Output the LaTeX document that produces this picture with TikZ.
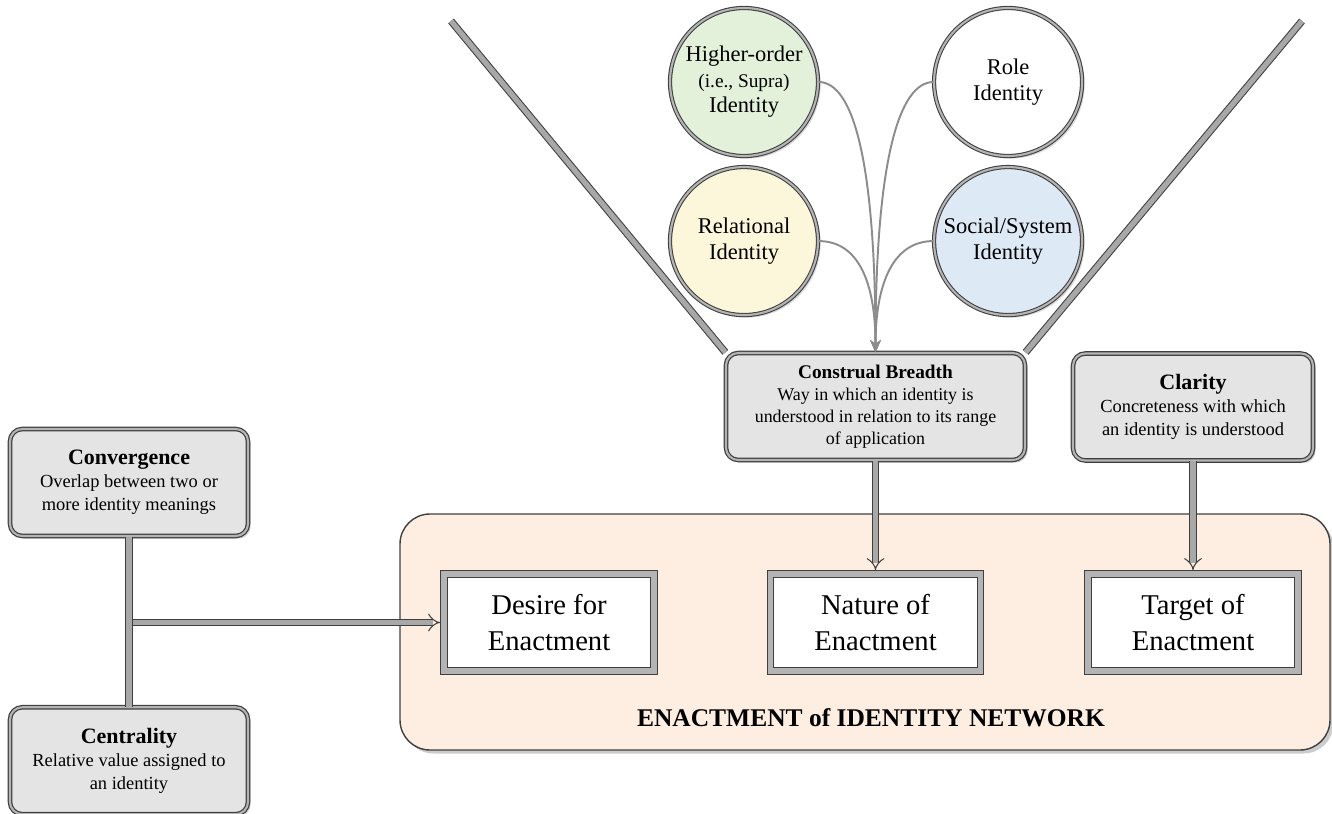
\documentclass[tikz,border=0pt]{standalone}
\usepackage{fontspec}
\setmainfont{Liberation Serif}
\definecolor{EdgeDark}{HTML}{3F3F3F}
\definecolor{TubeGray}{HTML}{A8A8A8}
\definecolor{BoxGray}{HTML}{E4E4E4}
\definecolor{BevelGray}{HTML}{B4B4B4}
\definecolor{CurveGray}{HTML}{8C8C8C}
\definecolor{PeachFill}{HTML}{FDEEE1}
\definecolor{SupraGreen}{HTML}{E3F1DA}
\definecolor{RelYellow}{HTML}{FCF7DA}
\definecolor{SocialBlue}{HTML}{DEE9F6}
\usetikzlibrary{arrows.meta, positioning, shadows, backgrounds}
\newcommand{\traithead}[1]{{\fontsize{12.5}{13.2}\selectfont\bfseries #1}}
\tikzset{
  % Box styles
  traitbox/.style={rectangle, rounded corners=7pt, draw=EdgeDark, line width=0.7pt, double=BevelGray, double distance=1.2pt, fill=BoxGray, minimum height=2.14cm, inner sep=2pt, align=center, font=\fontsize{10.5}{13.2}\selectfont, drop shadow={shadow xshift=1.5pt, shadow yshift=-1.5pt, opacity=0.35}},
  enactbox/.style={rectangle, draw=EdgeDark, line width=0.6pt, double=BevelGray, double distance=3pt, fill=white, minimum width=4.2cm, minimum height=1.94cm, align=center, font=\fontsize{16.3}{20}\selectfont},
  networkbox/.style={rectangle, rounded corners=0.6cm, draw=EdgeDark, line width=0.8pt, fill=PeachFill, minimum width=18.6cm, minimum height=4.72cm, drop shadow={shadow xshift=2pt, shadow yshift=-2pt, opacity=0.4}},
  titletext/.style={font=\fontsize{14.5}{17}\selectfont\bfseries},
  % Arrow styles
  tube/.style={draw=EdgeDark, line width=0.6pt, double=TubeGray, double distance=3pt},
  tubearrow/.style={tube, -{Implies[scale=1.4]}, shorten >=2pt},
  curvearrow/.style={-{Stealth[length=7pt, width=6pt]}, CurveGray, line width=1.1pt},
  % Node styles
  identitynode/.style={circle, draw=EdgeDark, line width=0.6pt, double=BevelGray, double distance=1.2pt, minimum size=2.96cm, inner sep=0pt, align=center, font=\fontsize{12.8}{14.5}\selectfont, drop shadow={shadow xshift=1.5pt, shadow yshift=-1.5pt, opacity=0.3}}
}

\begin{document}
\begin{tikzpicture}[node distance=0.8cm]
  \useasboundingbox (0,0) rectangle (26.64,-16.28);

  % Network frame
  \node[networkbox] (network) at (17.3,-12.64) {};
  \node[titletext] (nettitle) at (17.42,-14.36) {ENACTMENT of IDENTITY NETWORK};

  % Dimension boxes
  \node[traitbox, minimum width=5.98cm, font=\fontsize{10.2}{12.5}\selectfont] (construal) at (17.51,-8.13) {{\fontsize{11}{12.5}\selectfont\bfseries Construal Breadth}\\Way in which an identity is\\understood in relation to its range\\of application};
  \node[traitbox, minimum width=4.8cm] (clarity) at (23.86,-8.14) {\traithead{Clarity}\\Concreteness with which\\an identity is understood};
  \node[traitbox, minimum width=4.76cm] (convergence) at (2.58,-9.65) {\traithead{Convergence}\\Overlap between two or\\more identity meanings};
  \node[traitbox, minimum width=4.76cm, below=3.4cm of convergence] (centrality) {\traithead{Centrality}\\Relative value assigned to\\an identity};

  % Enactment boxes
  \node[enactbox] (desire) at (10.98,-12.45) {Desire for\\Enactment};
  \node[enactbox] (nature) at (construal |- desire) {Nature of\\Enactment};
  \node[enactbox] (target) at (clarity |- desire) {Target of\\Enactment};

  % Identity circles
  \node[identitynode, fill=SupraGreen] (supra) at (14.88,-1.64) {Higher-order\\{\fontsize{11}{14.5}\selectfont (i.e., Supra)}\\Identity};
  \node[identitynode, fill=white, right=2.3cm of supra] (role) {Role\\Identity};
  \node[identitynode, fill=RelYellow, below=0.2cm of supra] (relational) {Relational\\Identity};
  \node[identitynode, fill=SocialBlue, below=0.2cm of role] (social) {Social/System\\Identity};

  % Funnel
  \coordinate (funnelL) at (9.02,-0.42);
  \coordinate (funnelR) at (26.04,-0.42);
  \begin{scope}[on background layer]
    \draw[tube] (funnelL) -- (construal.north west);
    \draw[tube] (funnelR) -- (construal.north east);
  \end{scope}

  % Curved links
  \draw[curvearrow] (supra.east) .. controls +(0.7,0) and +(0,3.8) .. (construal.north);
  \draw[curvearrow] (relational.east) .. controls +(0.8,0) and +(0,1.4) .. (construal.north);
  \draw[curvearrow] (role.west) .. controls +(-0.7,0) and +(0,3.8) .. (construal.north);
  \draw[curvearrow] (social.west) .. controls +(-0.8,0) and +(0,1.4) .. (construal.north);

  % Tube arrows
  \draw[tubearrow] (construal) -- (nature);
  \draw[tubearrow] (clarity) -- (target);
  \draw[tube] (convergence) -- (centrality);
  \coordinate (junction) at ([xshift=2.1pt]convergence |- desire);
  \draw[tubearrow] (junction) -- (desire);
\end{tikzpicture}
\end{document}
